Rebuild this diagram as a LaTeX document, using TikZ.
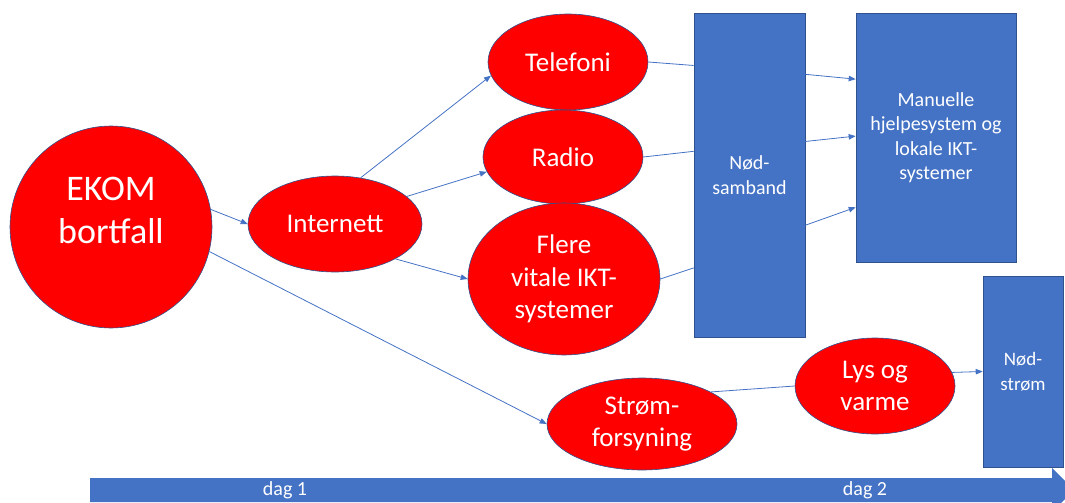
\documentclass[tikz,border=0pt]{standalone}
\usepackage{fontspec}
\setmainfont{Carlito}
\usetikzlibrary{shapes.geometric,arrows.meta}
\definecolor{boxblue}{HTML}{4472C4}
\definecolor{edgeblue}{HTML}{2F528F}
\begin{document}
\begin{tikzpicture}[x=1pt,y=-1pt,
    redell/.style={ellipse,draw=edgeblue,line width=0.6pt,fill=red,text=white,
      inner sep=0pt,align=center,font=\fontsize{27}{32.5}\selectfont},
  bluebox/.style={rectangle,draw=edgeblue,line width=0.6pt,fill=boxblue,text=white,
      inner sep=0pt,align=center,font=\fontsize{20}{24.5}\selectfont},
  link/.style={draw=boxblue,line width=0.8pt},
  linkarrow/.style={link,-{Triangle[length=7pt,width=5.5pt]}},
  ]
\useasboundingbox (0,0) rectangle (1065,503);
\clip (0,0) rectangle (1065,503);

\node[redell,circle,minimum size=202pt,text depth=34pt,font=\fontsize{36}{43}\selectfont] (ekom) at (111,227) {EKOM\\bortfall};
\node[redell,minimum width=174pt,minimum height=96pt] (inet) at (335,224) {Internett};
\node[redell,minimum width=160pt,minimum height=96pt] (tel) at (568,62) {Telefoni};
\node[redell,minimum width=160pt,minimum height=94pt] (radio) at (563,157) {Radio};
\node[redell,minimum width=192pt,minimum height=152pt] (flere) at (564,279) {Flere\\vitale IKT-\\systemer};
\node[redell,minimum width=190pt,minimum height=92pt] (strom) at (642,424) {Strøm-\\forsyning};
\node[redell,minimum width=160pt,minimum height=96pt] (lys) at (875,386) {Lys og\\varme};
\node[bluebox,minimum width=111pt,minimum height=324pt] (nodsamband) at (749.5,175) {Nød-\\samband};
\node[bluebox,minimum width=160pt,minimum height=249pt] (manuelle) at (936,137.5) {Manuelle\\hjelpesystem og\\lokale IKT-\\systemer};
\node[bluebox,minimum width=80pt,minimum height=191pt,font=\fontsize{19}{24.5}\selectfont] (nodstrom) at (1023,371.5) {Nød-\\strøm};

\draw[linkarrow] (ekom.10) -- (inet.west);
\draw[linkarrow] (ekom.-14) -- (strom.west);
\draw[linkarrow] (inet.61) -- (tel.190);
\draw[linkarrow] (inet.21) -- (radio.191);
\draw[linkarrow] (inet.-30) -- (flere.west);
\draw[link] (tel.east) -- (nodsamband.117);
\draw[link] (radio.east) -- (nodsamband.157);
\draw[link] (flere.east) -- (nodsamband.239);
\draw[linkarrow] (nodsamband.61) -- (manuelle.144);
\draw[linkarrow] (nodsamband.31) -- (manuelle.179);
\draw[linkarrow] (nodsamband.-42) -- (manuelle.221);
\draw[link] (strom.25) -- (lys.west);
\draw[linkarrow] (lys.10) -- (nodstrom.west);

% tidslinje
\fill[boxblue] (90,478) -- (1052,478) -- (1052,468) -- (1074,490) -- (1052,512) -- (1052,502) -- (90,502) -- cycle;
\node[text=white,font=\fontsize{20}{24}\selectfont] (dag1) at (285,490) {dag 1};
\node[text=white,font=\fontsize{20}{24}\selectfont] (dag2) at (865,490) {dag 2};

\end{tikzpicture}
\end{document}
